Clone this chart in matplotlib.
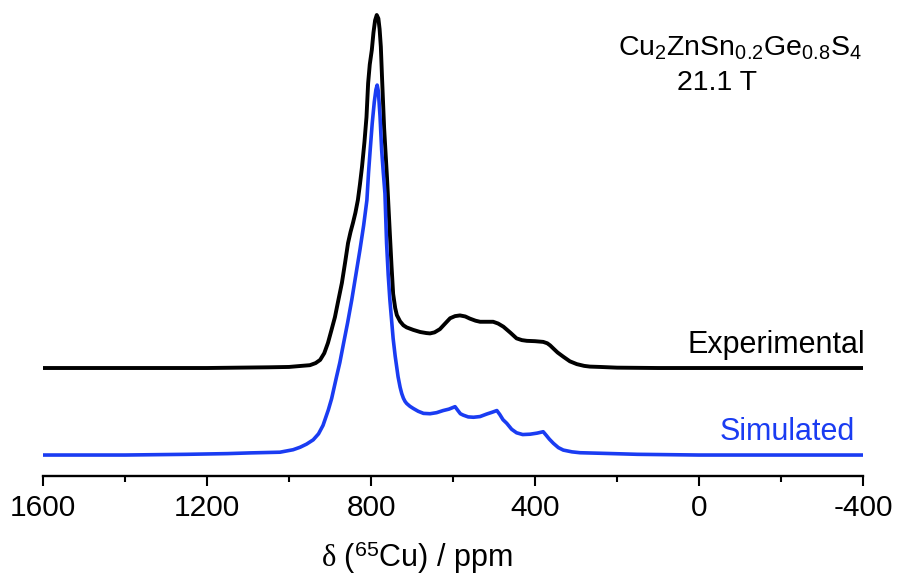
import matplotlib
matplotlib.use("Agg")
import matplotlib.pyplot as plt
from matplotlib.ticker import MultipleLocator

plt.rcParams["font.family"] = ["Liberation Sans", "DejaVu Sans"]
plt.rcParams["mathtext.fontset"] = "custom"
plt.rcParams["mathtext.rm"] = "Liberation Sans"
plt.rcParams["mathtext.it"] = "Liberation Serif"
plt.rcParams["mathtext.bf"] = "Liberation Sans:bold"

# 65Cu NMR spectra: chemical shift (ppm) and intensity above each baseline
exp_ppm = [1600, 1400, 1200, 1050, 1000, 970, 949, 935, 924, 914, 905, 897, 888,
           880, 871, 863, 856, 850, 844, 838, 832, 827, 822, 816, 811, 807, 803,
           798, 794, 790, 786, 782, 779, 776, 773, 768, 761, 754, 750, 746, 741,
           737, 729, 721, 713, 697, 680, 665, 656, 645, 632, 620, 607, 595, 583,
           570, 559, 545, 534, 518, 502, 490, 477, 460, 445, 432, 420, 400, 380,
           370, 363, 355, 345, 331, 315, 298, 280, 266, 241, 200, 100, 0, -200,
           -400]
exp_int = [0.0, 0.0, 0.0, 0.002, 0.003, 0.006, 0.008, 0.014, 0.023, 0.042, 0.071,
           0.105, 0.144, 0.190, 0.241, 0.300, 0.354, 0.385, 0.411, 0.440, 0.476,
           0.520, 0.569, 0.640, 0.711, 0.807, 0.860, 0.901, 0.950, 0.985, 1.000,
           0.990, 0.960, 0.910, 0.820, 0.680, 0.540, 0.380, 0.290, 0.210, 0.170,
           0.150, 0.132, 0.121, 0.115, 0.108, 0.102, 0.099, 0.098, 0.101, 0.110,
           0.125, 0.141, 0.147, 0.149, 0.146, 0.140, 0.134, 0.131, 0.131, 0.131,
           0.126, 0.117, 0.100, 0.084, 0.079, 0.077, 0.076, 0.074, 0.070, 0.064,
           0.055, 0.044, 0.032, 0.019, 0.011, 0.006, 0.004, 0.003, 0.001, 0.0,
           0.0, 0.0, 0.0]

sim_ppm = [1600, 1400, 1250, 1150, 1095, 1022, 990, 973, 957, 941, 928, 917, 904,
           896, 884, 876, 867, 857, 847, 837, 827, 818, 810, 806, 802, 797, 792,
           788, 785, 782, 778, 774, 770, 766, 762, 758, 754, 746, 741, 734, 729,
           725, 721, 717, 713, 705, 697, 685, 672, 656, 640, 624, 610, 595, 588,
           582, 575, 563, 550, 534, 518, 505, 493, 486, 478, 469, 457, 445, 430,
           412, 395, 380, 372, 365, 355, 343, 331, 310, 290, 241, 150, 0, -400]
sim_int = [0.0, 0.0, 0.002, 0.004, 0.006, 0.008, 0.015, 0.022, 0.031, 0.043,
           0.060, 0.084, 0.128, 0.160, 0.222, 0.262, 0.316, 0.375, 0.439, 0.510,
           0.581, 0.650, 0.722, 0.800, 0.864, 0.940, 1.000, 1.035, 1.048, 1.030,
           0.960, 0.864, 0.800, 0.741, 0.600, 0.510, 0.440, 0.330, 0.280, 0.222,
           0.192, 0.174, 0.161, 0.152, 0.146, 0.138, 0.132, 0.124, 0.118, 0.117,
           0.120, 0.126, 0.130, 0.137, 0.126, 0.117, 0.113, 0.108, 0.107, 0.109,
           0.116, 0.121, 0.126, 0.115, 0.100, 0.090, 0.073, 0.063, 0.058, 0.059,
           0.062, 0.066, 0.055, 0.045, 0.033, 0.021, 0.014, 0.009, 0.0065, 0.005,
           0.002, 0.0, 0.0]

x_ticks = [1600, 1200, 800, 400, 0, -400]
x_ticklabels = ["1600", "1200", "800", "400", "0", "-400"]

W, H = 897, 575
fig = plt.figure(figsize=(W / 100, H / 100), dpi=100)
ax = fig.add_axes([43 / W, (H - 475.5) / H, 820 / W, 475.5 / H])

exp_offset = 0.3045
sim_offset = 0.058
blue = "#1a3cf2"

ax.plot(exp_ppm, [v + exp_offset for v in exp_int], color="black", lw=2.8,
        solid_joinstyle="round", solid_capstyle="butt")
ax.plot(sim_ppm, [v + sim_offset for v in sim_int], color=blue, lw=2.6,
        solid_joinstyle="round", solid_capstyle="butt")

ax.set_xlim(1600, -400)
ax.set_ylim(0, 475.5 / 353)
ax.set_xticks(x_ticks)
ax.set_xticklabels(x_ticklabels)
ax.xaxis.set_minor_locator(MultipleLocator(200))
ax.set_yticks([])
for side in ("left", "right", "top"):
    ax.spines[side].set_visible(False)
ax.spines["bottom"].set_linewidth(1.7)
ax.tick_params(axis="x", which="major", direction="out", length=7.5, width=1.5,
               labelsize=21.5, pad=6)
ax.tick_params(axis="x", which="minor", direction="out", length=4.5, width=1.5)

def px(x, y):
    return x / W, 1 - y / H

fig.text(*px(417, 567), r"$\delta$ ($^{\mathrm{65}}$Cu) / ppm", fontsize=22,
         ha="center", va="baseline")
fig.text(*px(740, 55), r"$\mathrm{Cu_2ZnSn_{0.2}Ge_{0.8}S_4}$", fontsize=20.5,
         ha="center", va="baseline")
fig.text(*px(717, 90), "21.1 T", fontsize=20.5, ha="center", va="baseline")
fig.text(*px(865, 353), "Experimental", fontsize=22, ha="right", va="baseline")
fig.text(*px(855, 440), "Simulated", fontsize=22, ha="right", va="baseline",
         color=blue)

fig.savefig("out.png", dpi=100)
